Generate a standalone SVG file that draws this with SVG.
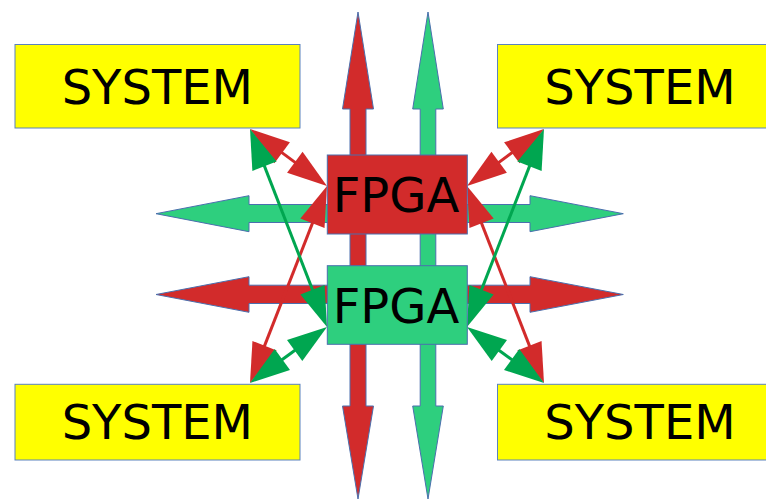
<svg xmlns="http://www.w3.org/2000/svg" width="766" height="500" viewBox="0 0 766 500">
  <style>
    .sys { fill: #FFFF00; stroke: #5b82bd; stroke-width: 1; }
    .fpga-r { fill: #D22B2B; stroke: #4a6fae; stroke-width: 1; }
    .fpga-g { fill: #2ECF7E; stroke: #4a6fae; stroke-width: 1; }
    .big-r { fill: #D22B2B; stroke: #4a6fae; stroke-width: 1; }
    .big-g { fill: #2ECF7E; stroke: #4a6fae; stroke-width: 1; }
    .lbl { font-family: "DejaVu Sans", "Liberation Sans", sans-serif; fill: #000; text-anchor: middle; }
    .sys-t { font-size: 48px; }
    .fpga-t { font-size: 48px; }
    .thin-r { stroke: #D22B2B; stroke-width: 3; fill: none; marker-start: url(#headR); marker-end: url(#headR); }
    .thin-g { stroke: #00A650; stroke-width: 3; fill: none; marker-start: url(#headG); marker-end: url(#headG); }
  </style>
  <defs>
    <marker id="headR" markerUnits="userSpaceOnUse" markerWidth="40" markerHeight="26" refX="20" refY="13" orient="auto-start-reverse" overflow="visible">
      <path d="M0,0 L40,13 L0,26 Z" fill="#D22B2B"/>
    </marker>
    <marker id="headG" markerUnits="userSpaceOnUse" markerWidth="40" markerHeight="26" refX="20" refY="13" orient="auto-start-reverse" overflow="visible">
      <path d="M0,0 L40,13 L0,26 Z" fill="#00A650"/>
    </marker>
  </defs>

  <!-- wide block arrows behind the FPGA boxes -->
  <g id="bus-arrows">
    <path class="big-r" d="M358,12 L373.5,109 L366,109 L366,406 L373.5,406 L358,499 L342.5,406 L350,406 L350,109 L342.5,109 Z"/>
    <path class="big-g" d="M428,12 L443.3,109 L435.8,109 L435.8,406 L443.3,406 L428,499 L412.7,406 L420.2,406 L420.2,109 L412.7,109 Z"/>
    <path class="big-g" d="M156,213.7 L249,195.7 L249,204.5 L530,204.5 L530,195.7 L623.3,213.7 L530,231.7 L530,222.5 L249,222.5 L249,231.7 Z"/>
    <path class="big-r" d="M156,294.5 L249,276.7 L249,285.2 L530,285.2 L530,276.7 L623.3,294.5 L530,312.3 L530,303.5 L249,303.5 L249,312.3 Z"/>
  </g>

  <!-- thin double-headed links between systems and FPGAs -->
  <g id="connectors">
    <line class="thin-r" x1="266.1" y1="140.9" x2="310.9" y2="174.1"/>
    <line class="thin-r" x1="319.72" y1="204.63" x2="257.28" y2="364.37"/>
    <line class="thin-r" x1="527.9" y1="140.9" x2="483.1" y2="174.1"/>
    <line class="thin-r" x1="474.28" y1="204.63" x2="536.72" y2="364.37"/>
    <line class="thin-g" x1="257.25" y1="147.64" x2="319.75" y2="308.36"/>
    <line class="thin-g" x1="310.82" y1="338.76" x2="266.18" y2="371.24"/>
    <line class="thin-g" x1="536.75" y1="147.64" x2="474.25" y2="308.36"/>
    <line class="thin-g" x1="483.18" y1="338.76" x2="527.82" y2="371.24"/>
  </g>

  <g id="fpga-top">
    <rect class="fpga-r" x="327.3" y="155" width="140" height="79"/>
    <text class="lbl fpga-t" x="396" y="211.7">FPGA</text>
  </g>
  <g id="fpga-bottom">
    <rect class="fpga-g" x="327.3" y="265.7" width="140" height="78.6"/>
    <text class="lbl fpga-t" x="396" y="322.7">FPGA</text>
  </g>

  <g id="system-top-left">
    <rect class="sys" x="15" y="44.5" width="285" height="83.5"/>
    <text class="lbl sys-t" x="157.3" y="104">SYSTEM</text>
  </g>
  <g id="system-top-right">
    <rect class="sys" x="497.5" y="44.5" width="284" height="83.5"/>
    <text class="lbl sys-t" x="640" y="104">SYSTEM</text>
  </g>
  <g id="system-bottom-left">
    <rect class="sys" x="15" y="384.3" width="285" height="75.7"/>
    <text class="lbl sys-t" x="157.3" y="439">SYSTEM</text>
  </g>
  <g id="system-bottom-right">
    <rect class="sys" x="497.5" y="384.3" width="284" height="75.7"/>
    <text class="lbl sys-t" x="640" y="439">SYSTEM</text>
  </g>
</svg>
